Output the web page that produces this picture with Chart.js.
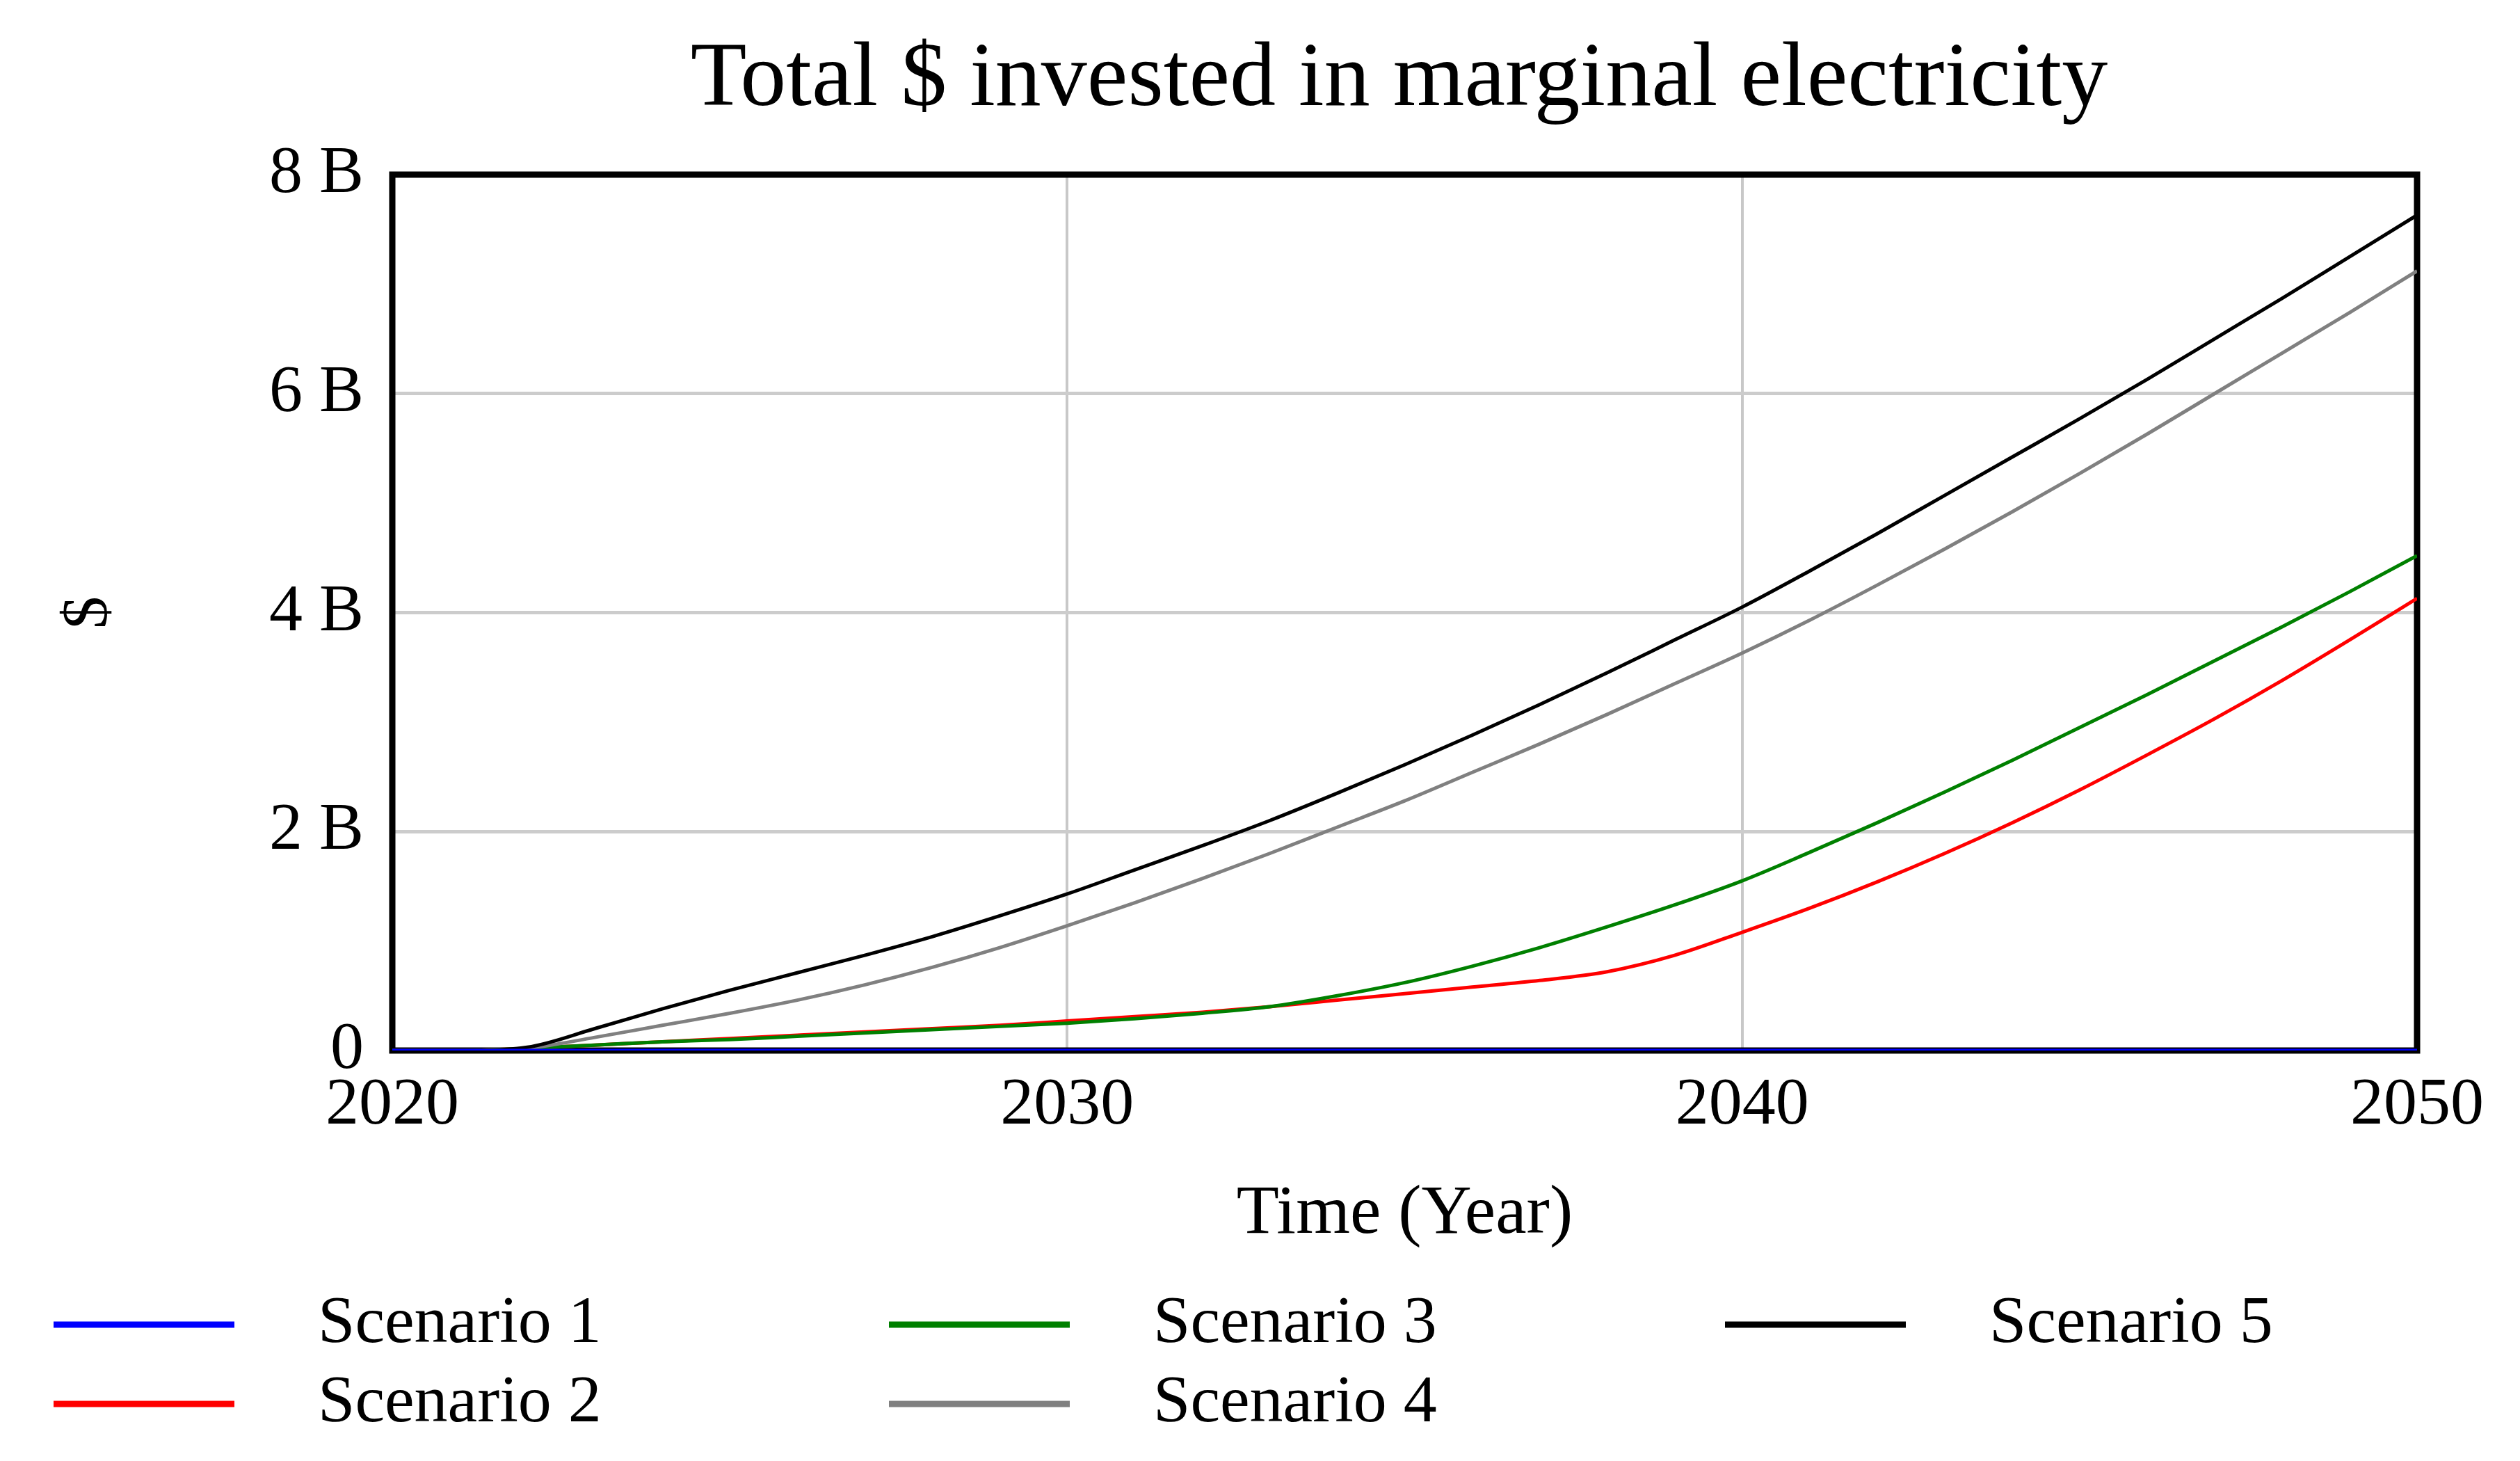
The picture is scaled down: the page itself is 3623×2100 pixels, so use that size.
<!DOCTYPE html>
<html>
<head>
<meta charset="utf-8">
<script src="https://cdn.jsdelivr.net/npm/chart.js@4.4.1/dist/chart.umd.min.js"></script>
<style>
  html, body { margin: 0; padding: 0; background: #fff; }
  #chart { display: block; }
</style>
</head>
<body>
<canvas id="chart" width="3623" height="2100" style="width:3623px;height:2100px"></canvas>
<script>
// Years on the x axis and values in billions of $
const years = [2020, 2021, 2022, 2023, 2024, 2025, 2026, 2027, 2028, 2029, 2030,
               2031, 2032, 2033, 2034, 2035, 2036, 2037, 2038, 2039, 2040,
               2041, 2042, 2043, 2044, 2045, 2046, 2047, 2048, 2049, 2050];

const scenario1 = [0, 0, 0, 0, 0, 0, 0, 0, 0, 0, 0,
                   0, 0, 0, 0, 0, 0, 0, 0, 0, 0,
                   0, 0, 0, 0, 0, 0, 0, 0, 0, 0];
const scenario2 = [0, 0, 0.02, 0.05, 0.08, 0.11, 0.14, 0.17, 0.2, 0.23, 0.27,
                   0.31, 0.35, 0.4, 0.46, 0.52, 0.58, 0.64, 0.72, 0.87, 1.08,
                   1.3, 1.54, 1.8, 2.08, 2.38, 2.7, 3.03, 3.38, 3.75, 4.13];
const scenario3 = [0, 0, 0.02, 0.05, 0.08, 0.1, 0.13, 0.16, 0.19, 0.22, 0.25,
                   0.29, 0.34, 0.4, 0.5, 0.62, 0.77, 0.94, 1.13, 1.33, 1.55,
                   1.81, 2.08, 2.36, 2.65, 2.95, 3.25, 3.56, 3.87, 4.19, 4.52];
const scenario4 = [0, 0, 0.02, 0.12, 0.23, 0.34, 0.46, 0.6, 0.76, 0.94, 1.14,
                   1.35, 1.57, 1.8, 2.04, 2.28, 2.54, 2.8, 3.07, 3.35, 3.63,
                   3.93, 4.25, 4.58, 4.92, 5.27, 5.63, 6.0, 6.37, 6.74, 7.12];
const scenario5 = [0, 0, 0.03, 0.2, 0.38, 0.55, 0.71, 0.87, 1.04, 1.23, 1.43,
                   1.65, 1.87, 2.1, 2.35, 2.61, 2.88, 3.16, 3.45, 3.75, 4.05,
                   4.38, 4.72, 5.07, 5.42, 5.77, 6.13, 6.5, 6.87, 7.25, 7.63];

const seriesNames = ['Scenario 1', 'Scenario 2', 'Scenario 3', 'Scenario 4', 'Scenario 5'];
const seriesColors = ['#0000ff', '#ff0000', '#008000', '#808080', '#000000'];
const xTicks = [2020, 2030, 2040, 2050];
const yTicks = [0, 2, 4, 6, 8];

const chartTitle = 'Total $ invested in marginal electricity';
const serif = '"Liberation Serif", "Times New Roman", serif';

function toPoints(values) {
    return values.map((v, i) => ({ x: years[i], y: v }));
}

const allSeries = [scenario1, scenario2, scenario3, scenario4, scenario5];

// blue drawn last so it sits on the bottom frame like the original
const datasets = allSeries.map((values, i) => ({
    label: seriesNames[i],
    data: toPoints(values),
    borderColor: seriesColors[i],
    backgroundColor: seriesColors[i],
    borderWidth: 5,
    pointRadius: 0,
    cubicInterpolationMode: 'monotone',
    order: i === 0 ? -1 : 5 - i
}));

// frame around the plot + the title above it
const framePlugin = {
    id: 'frame',
    beforeDatasetsDraw(chart) {
        const { ctx, chartArea } = chart;
        ctx.save();
        ctx.strokeStyle = '#000';
        ctx.lineWidth = 9;
        ctx.strokeRect(chartArea.left, chartArea.top,
                       chartArea.right - chartArea.left, chartArea.bottom - chartArea.top);
        ctx.restore();
    },
    afterDraw(chart) {
        const { ctx, chartArea } = chart;
        ctx.save();
        ctx.fillStyle = '#000';
        ctx.font = '132px ' + serif;
        ctx.textAlign = 'center';
        ctx.textBaseline = 'middle';
        ctx.fillText(chartTitle, (chartArea.left + chartArea.right) / 2 - 8, 116);
        ctx.restore();
    }
};

// legend: 3 columns, filled column by column
const legendPlugin = {
    id: 'gridLegend',
    afterDraw(chart) {
        const { ctx } = chart;
        const colX = [77, 1278, 2480];
        const rowY = [1904, 2018];
        ctx.save();
        ctx.font = '96px ' + serif;
        ctx.textBaseline = 'middle';
        ctx.textAlign = 'left';
        chart.data.datasets.forEach((ds, i) => {
            const x = colX[Math.floor(i / 2)];
            const y = rowY[i % 2];
            ctx.strokeStyle = ds.borderColor;
            ctx.lineWidth = 9;
            ctx.beginPath();
            ctx.moveTo(x, y);
            ctx.lineTo(x + 260, y);
            ctx.stroke();
            ctx.fillStyle = '#000';
            ctx.fillText(ds.label, x + 380, y);
        });
        ctx.restore();
    }
};

new Chart(document.getElementById('chart'), {
    type: 'line',
    data: { datasets: datasets },
    options: {
        responsive: false,
        animation: false,
        devicePixelRatio: 1,
        layout: {
            padding: { top: 251, right: 148, bottom: 250, left: 0 }
        },
        plugins: {
            legend: { display: false },
            title: { display: false },
            tooltip: { enabled: false }
        },
        scales: {
            x: {
                type: 'linear',
                min: 2020,
                max: 2050,
                afterBuildTicks(scale) {
                    scale.ticks = xTicks.map(v => ({ value: v }));
                },
                afterFit(scale) { scale.height = 340; },
                grid: { color: '#c8c8c8', lineWidth: 4, drawTicks: false },
                border: { display: false },
                ticks: {
                    color: '#000',
                    padding: 22,
                    maxRotation: 0,
                    font: { family: serif, size: 96 },
                    callback: v => String(v)
                },
                title: {
                    display: true,
                    text: 'Time (Year)',
                    color: '#000',
                    font: { family: serif, size: 100 },
                    padding: { top: 0, bottom: 44 }
                }
            },
            y: {
                min: 0,
                max: 8,
                afterBuildTicks(scale) {
                    scale.ticks = yTicks.map(v => ({ value: v }));
                },
                afterFit(scale) { scale.width = 564; },
                grid: { color: '#cccccc', lineWidth: 5, drawTicks: false },
                border: { display: false },
                ticks: {
                    color: '#000',
                    padding: 41,
                    font: { family: serif, size: 96 },
                    callback: v => (v === 0 ? '0' : v + ' B')
                },
                title: {
                    display: true,
                    text: '$',
                    color: '#000',
                    font: { family: serif, size: 94 },
                    padding: { top: 72, bottom: 0 }
                }
            }
        }
    },
    plugins: [framePlugin, legendPlugin]
});
</script>
</body>
</html>
